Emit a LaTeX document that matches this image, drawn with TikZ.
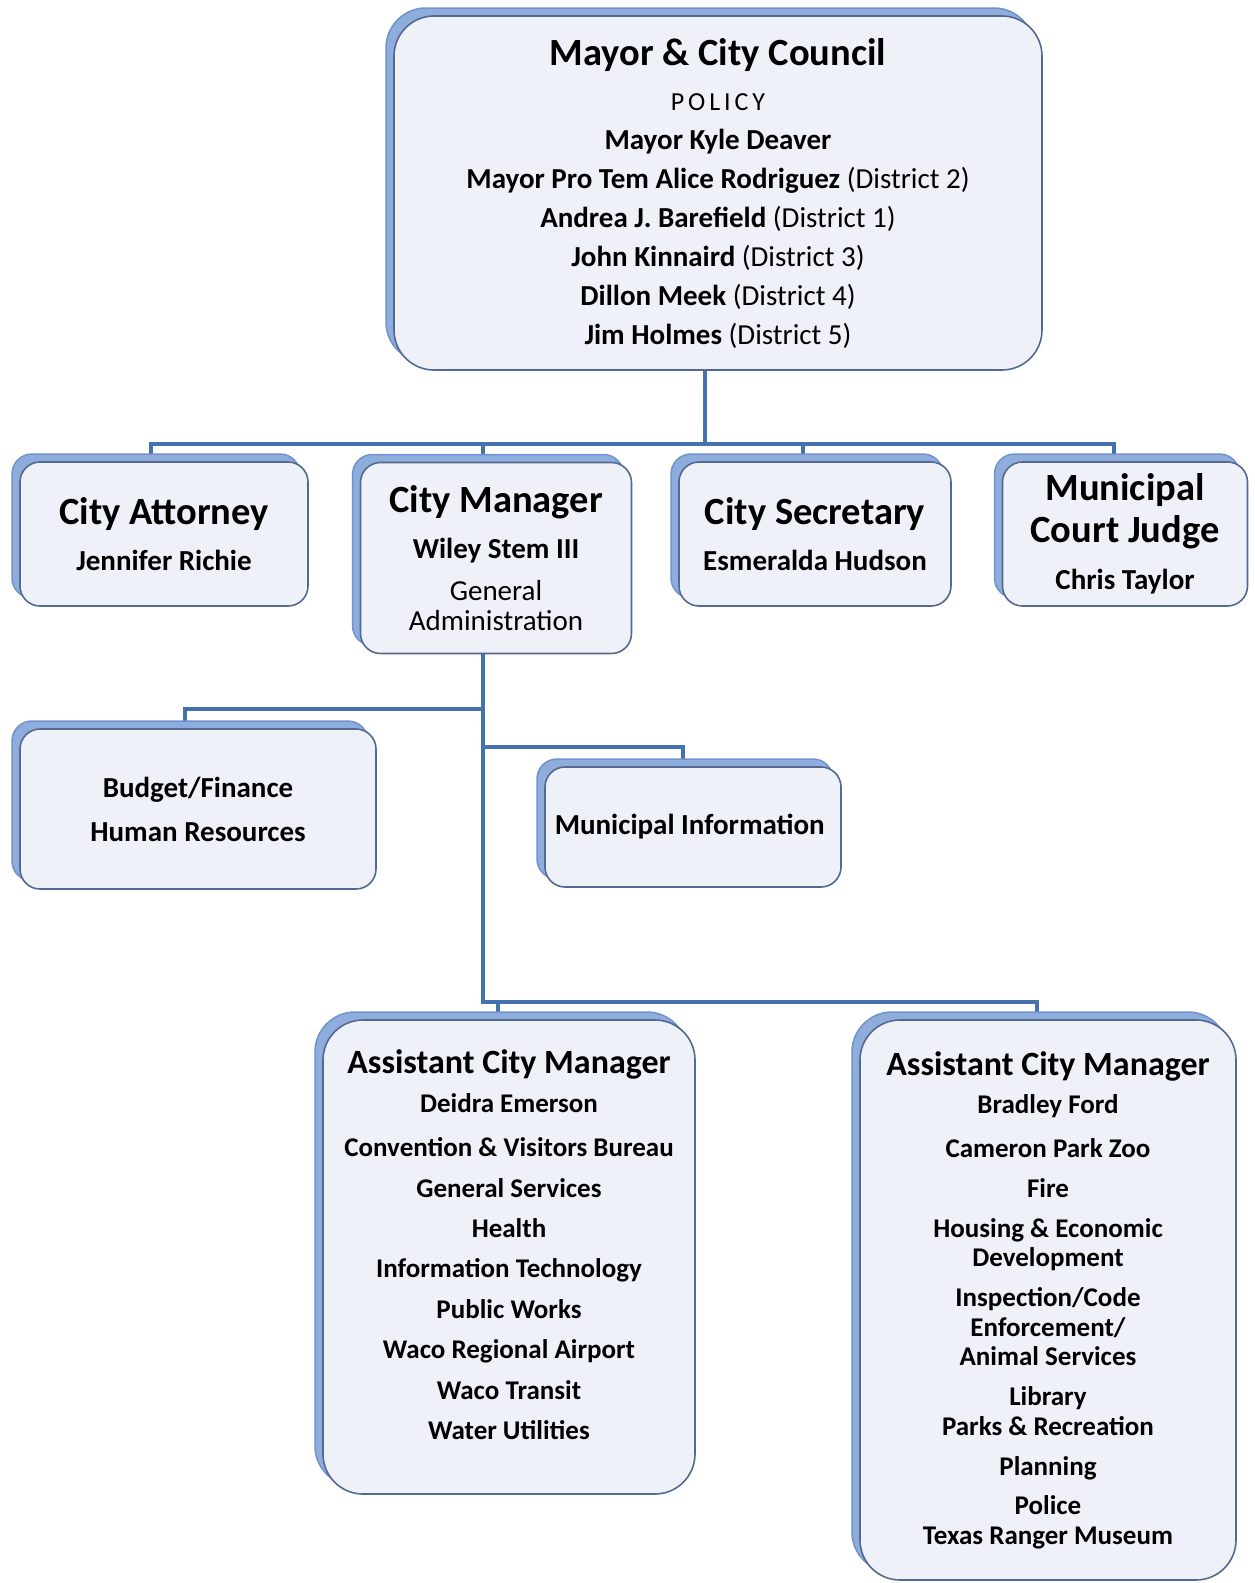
\documentclass[tikz,border=0pt]{standalone}
\usepackage{fontspec}
\setmainfont{Carlito}
\usepackage{xcolor}
\usepackage{tikz}
\usetikzlibrary{shapes, positioning, calc, shadows, backgrounds}

\definecolor{linkblue}{HTML}{4472AE}
\definecolor{boxline}{HTML}{53698F}
\definecolor{boxfill}{HTML}{EFF1F8}
\definecolor{shadowblue}{HTML}{8FADDC}
\definecolor{shadowedge}{HTML}{6F93CF}

\newcommand{\bigtitle}{\fontsize{38.5}{38.5}\selectfont\bfseries}
\newcommand{\acmtitle}{\fontsize{34}{34}\selectfont\bfseries}

\begin{document}
\begin{tikzpicture}[
    x=1pt, y=-1pt,
    box/.style={rectangle, rounded corners=20pt, draw=boxline, line width=1.6pt, fill=boxfill,
        align=center, inner sep=0pt,
        general shadow={fill=shadowblue, draw=shadowedge, line width=1.5pt, shadow xshift=-8pt, shadow yshift=8pt}},
    link/.style={draw=linkblue, line width=4pt}
]
\useasboundingbox (0,0) rectangle (1254,1583);

% Council
\node[box, rounded corners=40pt, minimum width=648pt, minimum height=354pt, font=\fontsize{29}{39}\selectfont] (mayor) at (718,193) {
{\bigtitle Mayor \& City Council}\\[6pt]
{\fontsize{26}{39}\selectfont\addfontfeature{LetterSpace=15}POLICY}\\
\textbf{Mayor Kyle Deaver}\\
\textbf{Mayor Pro Tem Alice Rodriguez} (District 2)\\
\textbf{Andrea J. Barefield} (District 1)\\
\textbf{John Kinnaird} (District 3)\\
\textbf{Dillon Meek} (District 4)\\
\textbf{Jim Holmes} (District 5)
};

% Second row
\node[box, minimum width=288pt, minimum height=144pt, font=\fontsize{29}{42}\selectfont] (att) at (164,534) {
{\bigtitle City Attorney}\\[4.5pt]
\textbf{Jennifer Richie}
};
\node[box, minimum width=271pt, minimum height=191pt, font=\fontsize{29}{30}\selectfont] (mgr) at (496,558) {
{\bigtitle City Manager}\\[16.5pt]
\textbf{Wiley Stem III}\\[12pt]
General\\
Administration
};
\node[box, minimum width=272pt, minimum height=144pt, font=\fontsize{29}{42}\selectfont] (sec) at (815,534) {
{\bigtitle City Secretary}\\[4.5pt]
\textbf{Esmeralda Hudson}
};
\node[box, minimum width=245pt, minimum height=144pt, font=\fontsize{29}{42}\selectfont] (judge) at (1125,534) {
{\bigtitle Municipal}\\
{\bigtitle Court Judge}\\[5pt]
\textbf{Chris Taylor}
};

% Staff offices
\node[box, minimum width=356pt, minimum height=160pt, font=\bfseries\fontsize{29}{44}\selectfont] (budget) at (198,809) {
Budget/Finance\\
Human Resources
};
\node[box, minimum width=296pt, minimum height=120pt, font=\bfseries\fontsize{29}{40}\selectfont] (info) at (693,827) {
Municipal Information
};

% Assistant city managers
\node[box, rounded corners=40pt, minimum width=372pt, minimum height=474pt, font=\bfseries\fontsize{27}{40.4}\selectfont] (acml) at (509,1257) {
{\acmtitle Assistant City Manager}\\[-2pt]
Deidra Emerson\\[4pt]
Convention \& Visitors Bureau\\
General Services\\
Health\\
Information Technology\\
Public Works\\
Waco Regional Airport\\
Waco Transit\\
Water Utilities\\[-16pt]
\mbox{}
};
\node[box, rounded corners=40pt, minimum width=376pt, minimum height=560pt, font=\bfseries\fontsize{27}{29.5}\selectfont] (acmr) at (1048,1300) {
{\acmtitle Assistant City Manager}\\[9pt]
Bradley Ford\\[14pt]
Cameron Park Zoo\\[10.5pt]
Fire\\[10.5pt]
Housing \& Economic\\
Development\\[10.5pt]
Inspection/Code\\
Enforcement/\\
Animal Services\\[10.5pt]
Library\\
Parks \& Recreation\\[11pt]
Planning\\[9.5pt]
Police\\
Texas Ranger Museum
};

% Junction points
\coordinate (bus) at (705,444);
\coordinate (ta) at (151,444);
\coordinate (tm) at (483,444);
\coordinate (ts) at (803,444);
\coordinate (tj) at (1114,444);
\coordinate (fb) at (185,709);
\coordinate (fi) at (683,747);
\coordinate (cm) at (483,1002);
\coordinate (la) at (498,1002);
\coordinate (ra) at (1037,1002);

% Connectors
\begin{scope}[on background layer]
\draw[link] (bus |- mayor.south) -- (bus);
\draw[link] (ta |- att.north) -- (ta) -- (tj) -- (tj |- judge.north);
\draw[link] (tm) -- (tm |- mgr.north);
\draw[link] (ts) -- (ts |- sec.north);
\draw[link] (cm |- mgr.south) -- (cm) -- (ra) -- (ra |- acmr.north);
\draw[link] (la) -- (la |- acml.north);
\draw[link] (fb -| cm) -- (fb) -- (fb |- budget.north);
\draw[link] (fi -| cm) -- (fi) -- (fi |- info.north);
\end{scope}

\end{tikzpicture}
\end{document}
